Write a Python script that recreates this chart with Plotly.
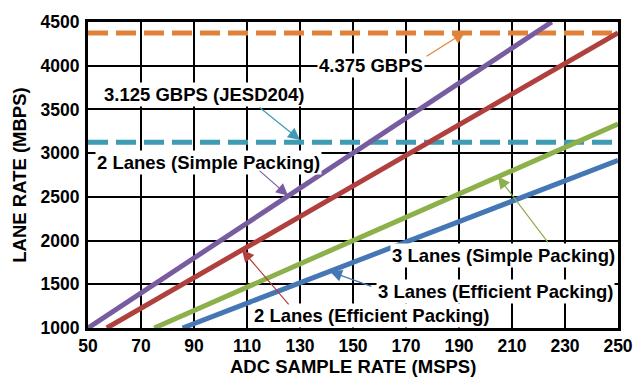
import plotly.graph_objects as go

# ADC sample rate (MSPS) vs lane rate (MBPS), line end points
lanes2_simple_x = [50, 225]
lanes2_simple_y = [1000, 4500]
lanes2_eff_x = [57.1, 250]
lanes2_eff_y = [1000, 4375]
lanes3_simple_x = [75, 250]
lanes3_simple_y = [1000, 3333]
lanes3_eff_x = [85.7, 250]
lanes3_eff_y = [1000, 2917]

limit_x = [50, 250]
limit_4375 = [4375, 4375]
limit_3125 = [3125, 3125]

x_ticks = [50, 70, 90, 110, 130, 150, 170, 190, 210, 230, 250]
y_ticks = [1000, 1500, 2000, 2500, 3000, 3500, 4000, 4500]

PURPLE = "#775CA0"
RED = "#B0403D"
GREEN = "#8CB04A"
BLUE = "#4677B5"
ORANGE = "#E2823A"
TEAL = "#3E9BB3"

FONT = "Liberation Sans, Arial, sans-serif"

fig = go.Figure()
fig.add_trace(go.Scatter(x=limit_x, y=limit_4375, mode="lines",
                         line=dict(color=ORANGE, width=5, dash="20px,8px")))
fig.add_trace(go.Scatter(x=limit_x, y=limit_3125, mode="lines",
                         line=dict(color=TEAL, width=5, dash="20px,8px")))
fig.add_trace(go.Scatter(x=lanes2_simple_x, y=lanes2_simple_y, mode="lines",
                         line=dict(color=PURPLE, width=5)))
fig.add_trace(go.Scatter(x=lanes2_eff_x, y=lanes2_eff_y, mode="lines",
                         line=dict(color=RED, width=5)))
fig.add_trace(go.Scatter(x=lanes3_simple_x, y=lanes3_simple_y, mode="lines",
                         line=dict(color=GREEN, width=5)))
fig.add_trace(go.Scatter(x=lanes3_eff_x, y=lanes3_eff_y, mode="lines",
                         line=dict(color=BLUE, width=5)))

lab_font = dict(family=FONT, size=18.5, color="black", weight="bold")

labels = [
    ("4.375 GBPS", 156.8, 4005),
    ("3.125 GBPS (JESD204)", 93.8, 3672),
    ("2 Lanes (Simple Packing)", 95.3, 2893),
    ("2 Lanes (Efficient Packing)", 156.8, 1138),
    ("3 Lanes (Simple Packing)", 206.8, 1826),
    ("3 Lanes (Efficient Packing)", 203.6, 1413),
]
for txt, x, y in labels:
    fig.add_annotation(x=x, y=y, text=txt, showarrow=False, font=lab_font,
                       bgcolor="white", borderpad=1)

arrows = [
    (ORANGE, 177.2, 4097, 192.3, 4384),
    (TEAL, 114.2, 3535, 130, 3150),
    (PURPLE, 114.2, 2812, 125.5, 2514),
    (RED, 126.2, 1252, 108.1, 1895),
    (GREEN, 224, 1963, 204.7, 2732),
    (BLUE, 157.5, 1470, 141.3, 1645),
]
for col, ax, ay, x, y in arrows:
    fig.add_annotation(x=x, y=y, ax=ax, ay=ay, axref="x", ayref="y", text="",
                       showarrow=True, arrowhead=2, arrowsize=2, arrowwidth=1.2,
                       arrowcolor=col, standoff=0, startstandoff=0)

# x title placed by hand, a little closer to the tick labels than plotly allows
fig.add_annotation(xref="paper", yref="paper", x=0.5, y=-0.126, yanchor="middle",
                   text="ADC SAMPLE RATE (MSPS)", showarrow=False, font=lab_font)

# page body has an 8px margin, so the figure is sized to fit inside the window
fig.update_layout(
    width=634, height=371,
    margin=dict(l=80, r=24, t=14, b=51),
    paper_bgcolor="white", plot_bgcolor="white",
    showlegend=False,
    font=dict(family=FONT, size=17.5, color="black", weight="bold"),
)
fig.update_xaxes(
    range=[50, 250], tickvals=x_ticks, showgrid=True, gridcolor="black", gridwidth=2,
    showline=True, linecolor="black", linewidth=3, mirror=True, zeroline=False,
    ticks="", ticklabelstandoff=0, automargin=False,
)
fig.update_yaxes(
    range=[1000, 4500], tickvals=y_ticks, showgrid=True, gridcolor="black", gridwidth=2,
    showline=True, linecolor="black", linewidth=3, mirror=True, zeroline=False,
    ticks="", ticklabelstandoff=2, automargin=False,
    title=dict(text="LANE RATE (MBPS)", standoff=10, font=dict(size=18.5)),
)

fig.write_html("out.html")
